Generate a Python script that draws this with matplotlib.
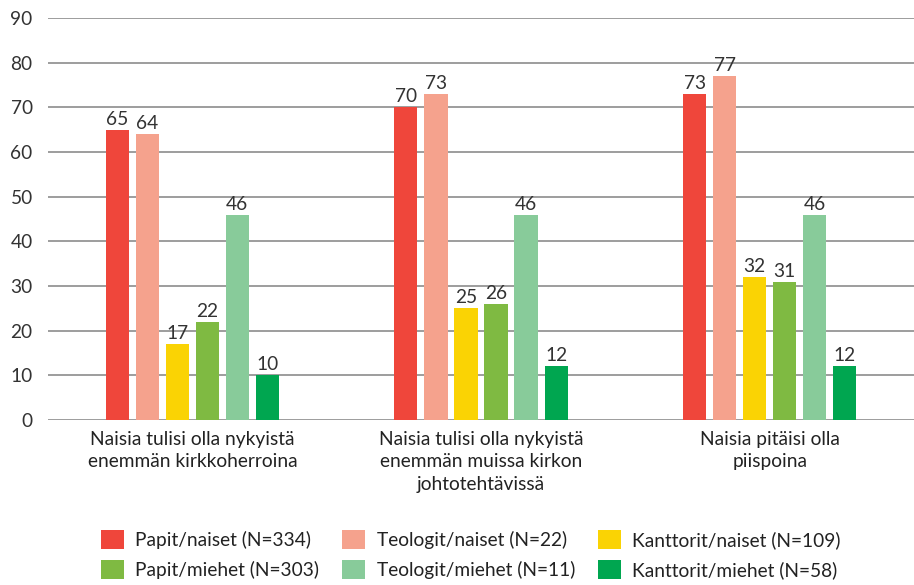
import numpy as np
import matplotlib.pyplot as plt

plt.rcParams['font.family'] = ['Lato', 'DejaVu Sans']

# Data
categories = ['Naisia tulisi olla nykyistä\nenemmän kirkkoherroina',
              'Naisia tulisi olla nykyistä\nenemmän muissa kirkon\njohtotehtävissä',
              'Naisia pitäisi olla\npiispoina']
series = ['Papit/naiset (N=334)', 'Teologit/naiset (N=22)', 'Kanttorit/naiset (N=109)',
          'Papit/miehet (N=303)', 'Teologit/miehet (N=11)', 'Kanttorit/miehet (N=58)']
values = [
    [65, 70, 73],
    [64, 73, 77],
    [17, 25, 32],
    [22, 26, 31],
    [46, 46, 46],
    [10, 12, 12],
]
colors = ['#EF463B', '#F5A28D', '#FAD304', '#7FBA42', '#88CB9A', '#00A650']

fs = 13.8
fig = plt.figure(figsize=(9.14, 5.85), dpi=100)
ax = fig.add_axes([0.0525, 0.282, 0.9475, 0.687])

x = np.arange(len(categories))
step = 0.104
width = 0.08
handles = []
for i, (name, vals) in enumerate(zip(series, values)):
    pos = x + (i - 2.5) * step
    bars = ax.bar(pos, vals, width, color=colors[i], label=name, zorder=3)
    handles.append(bars)
    ax.bar_label(bars, padding=1.5, fontsize=fs, color='#333333')

ax.set_xlim(-0.5, 2.5)
ax.set_ylim(0, 90)
ax.set_yticks(range(0, 91, 10))
ax.yaxis.grid(True, color='#8c8c8c', linewidth=1.2, zorder=0)
for s in ax.spines.values():
    s.set_visible(False)
ax.tick_params(axis='y', length=0, labelsize=fs, labelcolor='#333333', pad=11)
ax.tick_params(axis='x', length=0, labelsize=fs, labelcolor='#222222', pad=8)
ax.set_xticks(x)
ax.set_xticklabels(categories, linespacing=1.38, va='top')

order = [0, 3, 1, 4, 2, 5]
fig.legend([handles[k] for k in order], [series[k] for k in order], ncol=3,
           loc='lower center', bbox_to_anchor=(0.515, -0.02), frameon=False,
           fontsize=fs, handlelength=1.2, handleheight=1.2, columnspacing=1.2,
           labelspacing=0.55, handletextpad=0.6, labelcolor='#222222')

fig.savefig('out.png', dpi=100)
